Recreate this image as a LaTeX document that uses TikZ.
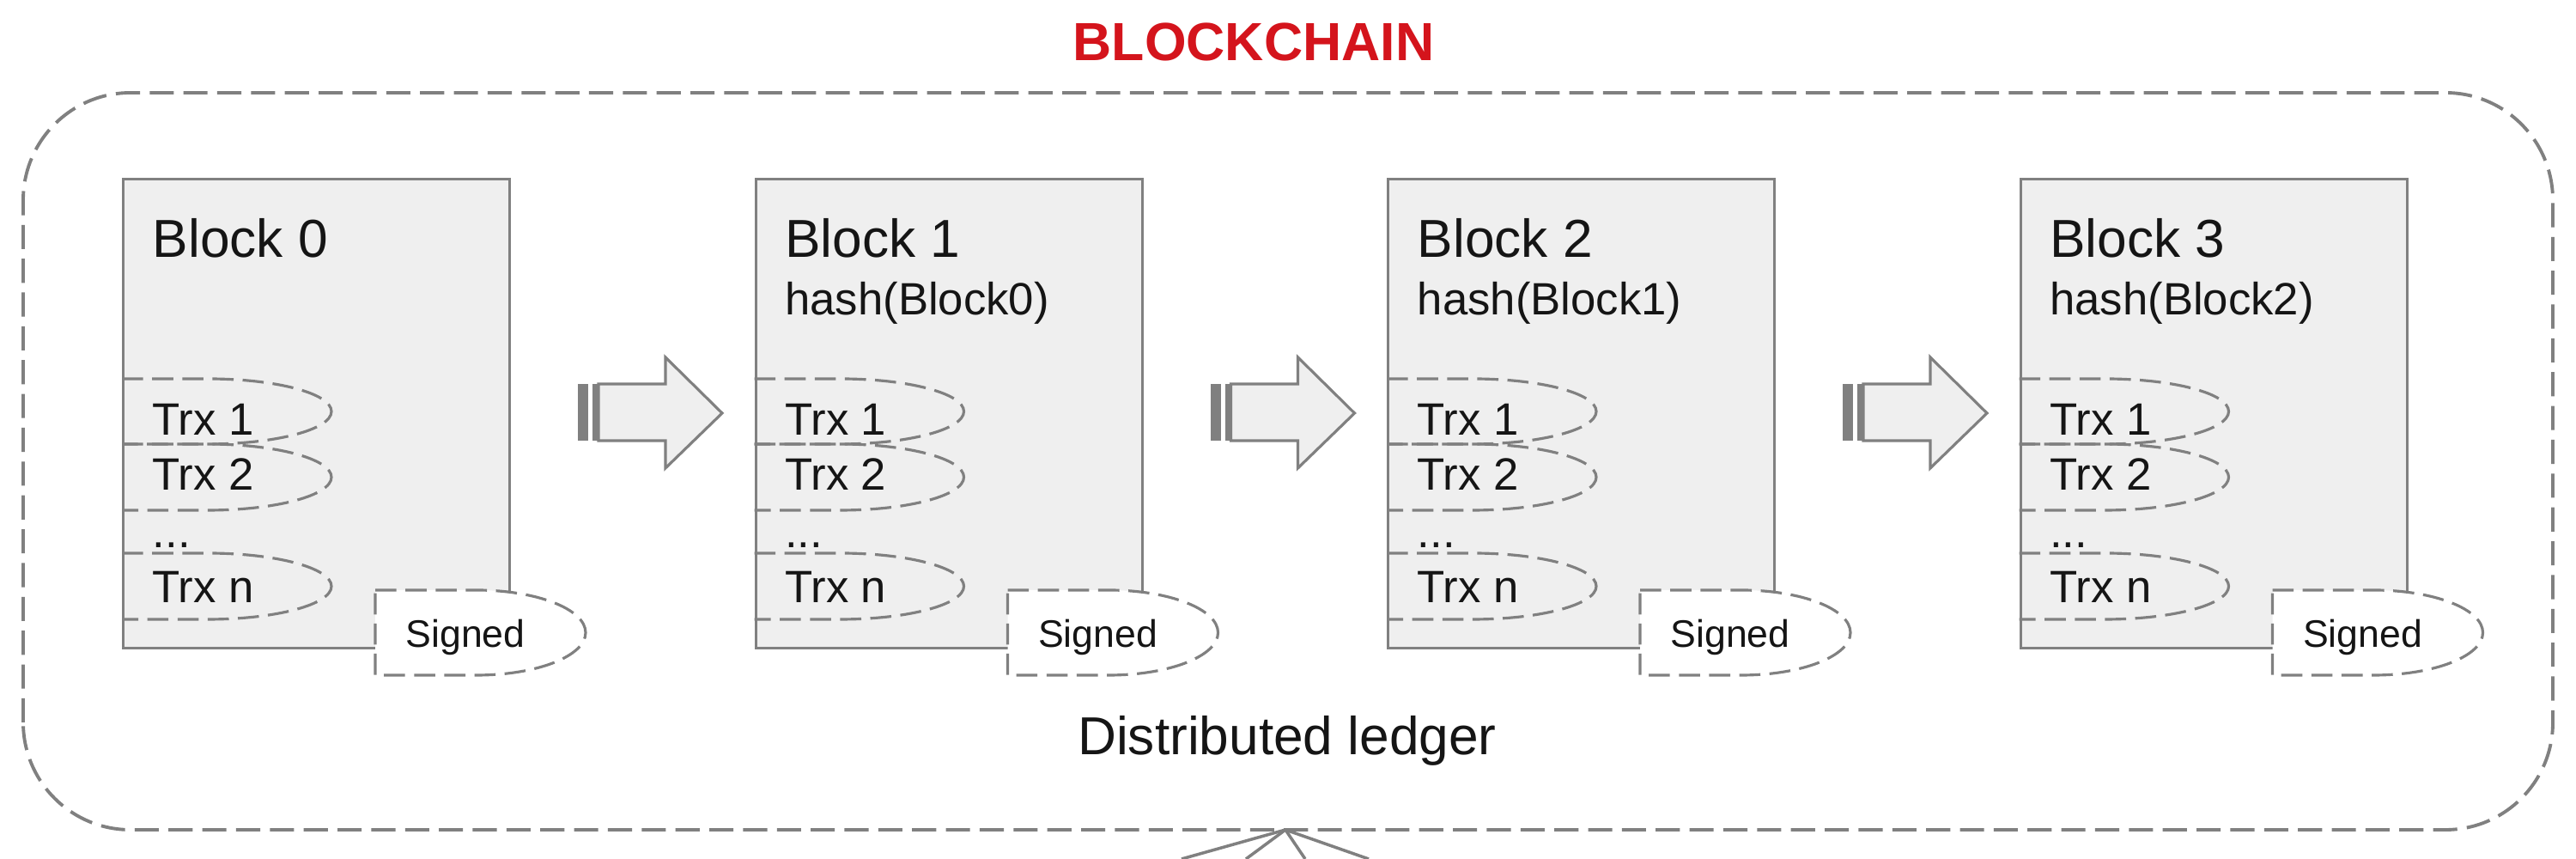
\documentclass[tikz,border=0pt]{standalone}
\usepackage{fontspec}
\setmainfont{Liberation Sans}
\definecolor{lg}{HTML}{808080}
\definecolor{blkfill}{HTML}{EFEFEF}
\definecolor{titlered}{HTML}{D4141C}
\definecolor{txt}{HTML}{151515}
\begin{document}
\begin{tikzpicture}[
  frame/.style={draw=lg, line width=1.1pt, dash pattern=on 8pt off 3.2pt, rounded corners=1.25cm},
  blockbox/.style={draw=lg, line width=0.9pt, fill=blkfill, minimum width=4.5cm, minimum height=5.46cm, inner sep=0pt, anchor=north west},
  trxline/.style={draw=lg, line width=0.9pt, dash pattern=on 7pt off 3pt},
  signbox/.style={draw=lg, line width=0.9pt, dash pattern=on 7pt off 3pt, fill=white},
  bigtext/.style={font=\fontsize{17.7}{20}\selectfont, text=txt, inner sep=0pt},
  midtext/.style={font=\fontsize{15}{17}\selectfont, text=txt, inner sep=0pt},
  smalltext/.style={font=\fontsize{12.7}{15}\selectfont, text=txt, inner sep=0pt},
  arrowbody/.style={draw=lg, line width=0.9pt, fill=blkfill},
  stripe/.style={fill=lg, draw=none},
  feed/.style={draw=lg, line width=1pt}
]
\useasboundingbox (0,0) rectangle (30,10);

% outer dashed frame
\draw[frame] (0.27,0.34) rectangle (29.73,8.92);
\node[font=\bfseries\fontsize{17.8}{20}\selectfont, text=titlered, inner sep=0pt, anchor=base] (title) at (14.60,9.29) {BLOCKCHAIN};

\foreach \i in {0,...,3} {
  \pgfmathsetmacro\X{1.42+7.365*\i}
  % block
  \node[blockbox] (blk\i) at (\X,7.93) {};
  % transactions
  \draw[trxline] (\X,5.59) -- (\X+1.0,5.59) arc[start angle=90, end angle=-90, x radius=1.44, y radius=0.38] -- (\X,4.83);
  \draw[trxline] (\X,4.83) -- (\X+1.0,4.83) arc[start angle=90, end angle=-90, x radius=1.44, y radius=0.385] -- (\X,4.06);
  \draw[trxline] (\X,3.56) -- (\X+1.0,3.56) arc[start angle=90, end angle=-90, x radius=1.44, y radius=0.385] -- (\X,2.79);
  % signed
  \draw[signbox] (\X+2.95,3.13) -- (\X+4.13,3.13) arc[start angle=90, end angle=-90, x radius=1.27, y radius=0.495] -- (\X+2.95,2.14) -- cycle;
  % texts
  \node[bigtext, anchor=base west] (name\i) at (\X+0.35,7.00) {Block \i};
  \ifnum\i>0
    \pgfmathtruncatemacro\j{\i-1}
    \node[midtext, anchor=base west] (hash\i) at (\X+0.35,6.33) {hash(Block\j)};
  \fi
  \node[midtext, anchor=base west] (trxa\i) at (\X+0.35,4.93) {Trx 1};
  \node[midtext, anchor=base west] (trxb\i) at (\X+0.35,4.29) {Trx 2};
  \node[midtext, anchor=base west] (dots\i) at (\X+0.35,3.62) {...};
  \node[midtext, anchor=base west] (trxn\i) at (\X+0.35,2.98) {Trx n};
  \node[smalltext, anchor=base] (sig\i) at (\X+4.0,2.46) {Signed};
  % block arrow to next block
  \ifnum\i<3
    \fill[stripe] (\X+5.31,4.87) rectangle (\X+5.43,5.53);
    \fill[stripe] (\X+5.48,4.87) rectangle (\X+5.55,5.53);
    \draw[arrowbody] (\X+5.55,5.53) -- (\X+6.33,5.53) -- (\X+6.33,5.84) -- (\X+6.99,5.19) -- (\X+6.33,4.55) -- (\X+6.33,4.87) -- (\X+5.55,4.87) -- cycle;
  \fi
}

\node[bigtext, anchor=base] (ledger) at (14.99,1.21) {Distributed ledger};

% feeding lines under the frame
\coordinate (apex) at (14.97,0.34);
\coordinate (f1) at (13.76,0);
\coordinate (f2) at (14.51,0);
\coordinate (f3) at (15.20,0);
\coordinate (f4) at (15.94,0);
\draw[feed] (apex) -- (f1);
\draw[feed] (apex) -- (f2);
\draw[feed] (apex) -- (f3);
\draw[feed] (apex) -- (f4);
\end{tikzpicture}
\end{document}
